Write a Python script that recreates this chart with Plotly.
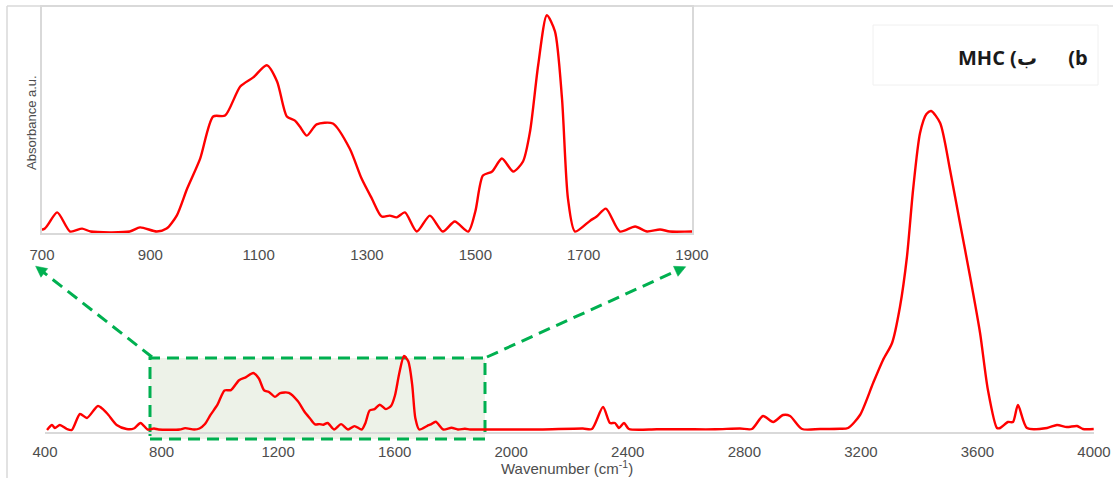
import math
import plotly.graph_objects as go

# ---------------- data ----------------
wavenumber = [407, 424, 434, 451, 475, 492, 520, 544, 582, 612, 646, 680, 705, 728, 752,
              774, 790, 862, 881, 912, 930, 949, 968, 992, 1016, 1038, 1066, 1090, 1115,
              1134, 1152, 1167, 1176, 1189, 1207, 1237, 1268, 1290, 1309, 1327, 1342, 1355,
              1370, 1392, 1416, 1440, 1462, 1487, 1500, 1514, 1531, 1549, 1570, 1588, 1601,
              1616, 1632, 1647, 1660, 1671, 1684, 1712, 1724, 1741, 1767, 1795, 1817, 1841,
              1859, 1900, 2000, 2100, 2246, 2277, 2315, 2339, 2356, 2370, 2387, 2404, 2500,
              2600, 2700, 2785, 2826, 2864, 2899, 2933, 2957, 2998, 3060, 3128, 3156, 3197,
              3242, 3276, 3307, 3334, 3358, 3379, 3403, 3425, 3441, 3472, 3506, 3540, 3575,
              3609, 3636, 3667, 3678, 3705, 3722, 3739, 3770, 3839, 3873, 3907, 3942, 3962,
              3999]
absorbance = [2, 7, 4, 7, 3, 2, 18, 14, 26, 19, 7, 3, 3.5, 9.0, 2.5,
              3.5, 2.5, 2.5, 3.9, 2.5, 3.5, 8.0, 17.1, 27.3, 41.6, 41.9, 51.8, 54.9, 59.0,
              53.5, 41.6, 40.2, 38.2, 35.1, 38.9, 39.2, 30.7, 20.5, 13.7, 7.6, 7.9, 7.3,
              9.0, 2.5, 7.9, 2.5, 5.9, 2.5, 9.3, 21.5, 22.9, 27.3, 22.9, 26.3, 36.5,
              59.0, 76.0, 70.5, 47.7, 13.7, 2.5, 6.2, 7.6, 10.3, 2.5, 4.2, 2.5, 3.2,
              2.5, 2.5, 2.5, 2.5, 3.5, 3, 25, 9, 9, 4, 9, 3, 2.7,
              2.7, 2.7, 3.5, 3, 16, 10, 17, 16, 3, 3, 3.2, 4, 17,
              49, 72, 89, 125, 175, 242, 299, 318, 321, 309, 262, 209, 155,
              99, 42, 4, 4, 10, 10, 27, 4, 4, 7, 5, 6, 3,
              3]
main_ticks = [400, 800, 1200, 1600, 2000, 2400, 2800, 3200, 3600, 4000]
inset_ticks = [700, 900, 1100, 1300, 1500, 1700, 1900]
x_title = "Wavenumber (cm<sup>-1</sup>)"
inset_y_title = "Absorbance a.u."
chart_title = "MHC (ب" + "\u00a0" * 6 + "(b"

# ---------------- layout helpers ----------------
W, H = 1113, 478


def PX(x):
    return x / W


def PY(y):
    return 1 - y / H


FONT = "Liberation Sans, Arial, sans-serif"
GRAY = "#d9d9d9"
TXT = "#4d4d4d"
GREEN = "#00b050"

fig = go.Figure()
line_style = dict(color="#ff0000", width=2.4, shape="spline", smoothing=0.7)
fig.add_trace(go.Scatter(x=wavenumber, y=absorbance, mode="lines", line=line_style,
                         xaxis="x", yaxis="y", hoverinfo="skip", showlegend=False))
fig.add_trace(go.Scatter(x=wavenumber, y=absorbance, mode="lines", line=line_style,
                         xaxis="x2", yaxis="y2", hoverinfo="skip", showlegend=False))

shapes = []
# outer frame (left and top edges)
shapes.append(dict(type="line", xref="paper", yref="paper", x0=PX(7), x1=PX(7), y0=PY(6), y1=PY(478),
                   line=dict(color=GRAY, width=1.5)))
shapes.append(dict(type="line", xref="paper", yref="paper", x0=PX(7), x1=PX(1113), y0=PY(6), y1=PY(6),
                   line=dict(color=GRAY, width=1.5)))
# title box
shapes.append(dict(type="rect", xref="paper", yref="paper", x0=PX(873), x1=PX(1098), y0=PY(85), y1=PY(25),
                   line=dict(color="#f0f0f0", width=1)))
# green zoom box
shapes.append(dict(type="rect", xref="paper", yref="paper", x0=PX(150), x1=PX(485), y0=PY(439), y1=PY(358),
                   line=dict(color=GREEN, width=3, dash="12px,7px"), fillcolor="#edf2e8", layer="below"))


def arrow(x0, y0, x1, y1):
    shapes.append(dict(type="line", xref="paper", yref="paper", x0=PX(x0), y0=PY(y0), x1=PX(x1), y1=PY(y1),
                       line=dict(color=GREEN, width=3, dash="12px,7px")))
    L = math.hypot(x1 - x0, y1 - y0)
    ux, uy = (x1 - x0) / L, (y1 - y0) / L
    hl, hw = 11, 5.5
    tipx, tipy = x1 + ux * 3, y1 + uy * 3
    bx, by = tipx - ux * hl, tipy - uy * hl
    p1 = (bx - uy * hw, by + ux * hw)
    p2 = (bx + uy * hw, by - ux * hw)
    path = "M {} {} L {} {} L {} {} Z".format(PX(tipx), PY(tipy), PX(p1[0]), PY(p1[1]), PX(p2[0]), PY(p2[1]))
    shapes.append(dict(type="path", xref="paper", yref="paper", path=path, fillcolor=GREEN,
                       line=dict(color=GREEN, width=0.5)))


arrow(152, 357, 38, 268)
arrow(487, 357, 683, 268)

annotations = [
    dict(text=x_title, xref="paper", yref="paper", x=PX(567), y=PY(467), showarrow=False,
         font=dict(family=FONT, size=15, color=TXT), xanchor="center", yanchor="middle"),
    dict(text=inset_y_title, xref="paper", yref="paper", x=PX(32), y=PY(123), showarrow=False,
         textangle=-90, font=dict(family=FONT, size=13, color=TXT), xanchor="center", yanchor="middle"),
    dict(text="<b>" + chart_title + "</b>", xref="paper", yref="paper", x=PX(1090), y=PY(57), showarrow=False,
         font=dict(family="Open Sans, DejaVu Sans, sans-serif", size=20, color="#1a1a1a"),
         xanchor="right", yanchor="middle"),
]

fig.update_layout(
    width=W, height=H, autosize=False,
    margin=dict(l=0, r=0, t=0, b=0, pad=0, autoexpand=False),
    paper_bgcolor="white", plot_bgcolor="white",
    showlegend=False,
    xaxis=dict(domain=[PX(45), PX(1094)], range=[400, 4000], tickmode="array", tickvals=main_ticks,
               showline=True, linecolor=GRAY, linewidth=1.5, showgrid=False, zeroline=False,
               ticks="outside", ticklen=5, tickcolor="rgba(0,0,0,0)", automargin=False,
               tickfont=dict(family=FONT, size=15, color=TXT), anchor="y", fixedrange=True),
    yaxis=dict(domain=[PY(432), PY(7)], range=[0, 425], visible=False, anchor="x", fixedrange=True,
               automargin=False),
    xaxis2=dict(domain=[PX(42), PX(692)], range=[700, 1900], tickmode="array", tickvals=inset_ticks,
                showline=True, mirror=True, linecolor=GRAY, linewidth=1.5, showgrid=False, zeroline=False,
                ticks="outside", ticklen=7, tickcolor="rgba(0,0,0,0)", automargin=False,
                tickfont=dict(family=FONT, size=15, color=TXT), anchor="y2", fixedrange=True),
    yaxis2=dict(domain=[PY(233), PY(7)], range=[2.0, 78.8], showline=True, mirror=True, linecolor=GRAY,
                linewidth=1.5, showgrid=False, zeroline=False, showticklabels=False, ticks="",
                anchor="x2", fixedrange=True, automargin=False),
    shapes=shapes,
    annotations=annotations,
)

fig.write_html("out.html")
